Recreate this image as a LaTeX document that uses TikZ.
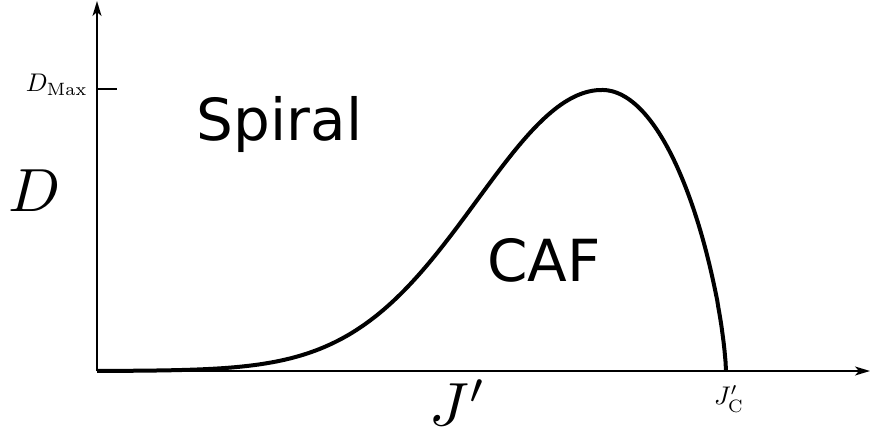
\documentclass[tikz,border=0pt]{standalone}
\usepackage{fontspec}
\newfontfamily\labelsans{DejaVu Sans}
\usetikzlibrary{arrows.meta}
\begin{document}
\begin{tikzpicture}[x=1pt,y=-1pt,
  axis/.style={line width=1.8pt,-{Stealth[length=15pt,width=9pt,inset=4pt]}},
  curve/.style={line width=4pt,line join=round},
  region/.style={font=\labelsans\fontsize{58}{58}\selectfont},
  biglabel/.style={scale=6.1,inner sep=0pt},
  smalllabel/.style={scale=2.55,inner sep=0pt}]
\useasboundingbox (0,0) rectangle (871,433);
\coordinate (O) at (97,371);
\coordinate (ytop) at (97,1);
\coordinate (xend) at (870,371);
\coordinate (t1) at (97,89);
\coordinate (t2) at (117,89);
\coordinate (end) at (726,371);
\draw[axis] (O) -- (ytop);
\draw[axis] (O) -- (xend);
\draw[line width=1.3pt] (t1) -- (t2);
\draw[curve] plot[domain=97:602,samples=160] (\x,{371-281*exp(-((\x-602)/177)^2)})
  -- plot[domain=602:725.5,samples=120] (\x,{371-281*(max(1-((\x-602)/124)^2,0.0001))^0.7}) -- (end);
\node[region] (spiral) at (279.5,124) {Spiral};
\node[region] (caf) at (544,260) {CAF};
\node[biglabel] (D) at (35,191) {$D$};
\node[smalllabel,anchor=base east] (Dmax) at (88,92) {$D_{\mathrm{Max}}$};
\node[biglabel] (J) at (458,403) {$J'$};
\node[smalllabel] (Jc) at (729,399) {$J'_{\mathrm{C}}$};
\end{tikzpicture}
\end{document}
